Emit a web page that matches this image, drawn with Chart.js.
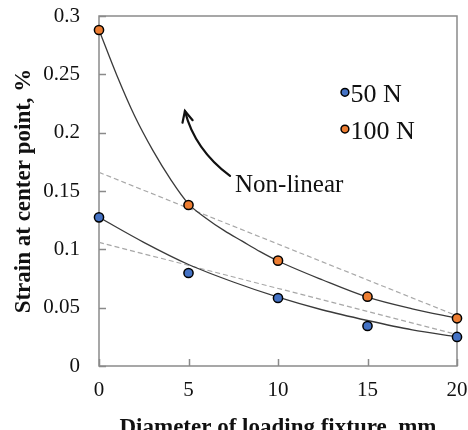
<!DOCTYPE html>
<html><head><meta charset="utf-8">
<script src="https://cdn.jsdelivr.net/npm/chart.js@4.4.1/dist/chart.umd.min.js"></script>
<style>html,body{margin:0;padding:0;overflow:hidden;background:#fff;width:468px;height:430px}canvas{display:block}</style>
</head><body><canvas id="c" width="468" height="442"></canvas>
<script>
// ---- data ----
const diameters = [0, 5, 10, 15, 20];
const strain50N = [0.1274, 0.0797, 0.0583, 0.0343, 0.0249];
const strain100N = [0.288, 0.138, 0.0903, 0.0594, 0.0409];
// non-linear fit curves
const fitX100 = [0, 1, 2, 3, 4, 5, 6, 7, 8, 9, 10, 12.5, 15, 17.5, 20];
const fitY100 = [0.288, 0.249, 0.214, 0.185, 0.160, 0.139, 0.1265, 0.116, 0.107, 0.098, 0.090, 0.0737, 0.059, 0.049, 0.041];
const fitX50 = [0, 2.5, 5, 7.5, 10, 12.5, 15, 17.5, 20];
const fitY50 = [0.1274, 0.106, 0.087, 0.072, 0.059, 0.048, 0.039, 0.031, 0.025];
// linear fits (dashed)
const linX = [0, 20];
const linY100 = [0.166, 0.043];
const linY50 = [0.106, 0.027];
// axis tick labels
const xTickLabels = ['0', '5', '10', '15', '20'];
const yTickLabels = ['0', '0.05', '0.1', '0.15', '0.2', '0.25', '0.3'];
const seriesNames = ['50 N', '100 N'];

const FONT = '"Liberation Serif","Times New Roman",serif';
const BLUE = '#4472C4', ORANGE = '#ED7D31';
const AXIS = '#8a8a8a';

const pts = (xs, ys) => xs.map((x, i) => ({x, y: ys[i]}));

// annotation placement (data units)
const note = {text: 'Non-linear', at: [7.6, 0.1489],
  from: [7.32, 0.1629], ctrl: [5.34, 0.1856], to: [4.80, 0.2186]};
const legendPos = {x: 13.74, y: [0.2346, 0.2031]};

const noPad = s => { s.paddingTop = 0; s.paddingBottom = 0; s.paddingLeft = 0; s.paddingRight = 0; };

const deco = {
  id: 'deco',
  beforeDatasetsDraw(chart) {
    const {ctx, chartArea: a, scales: {x, y}} = chart;
    ctx.save();
    ctx.strokeStyle = AXIS;
    ctx.lineWidth = 1.5;
    ctx.strokeRect(a.left, a.top, a.right - a.left, a.bottom - a.top);
    ctx.beginPath();
    y.ticks.forEach(t => { const p = Math.round(y.getPixelForValue(t.value)) + 0.5; ctx.moveTo(a.left, p); ctx.lineTo(a.left + 7, p); });
    x.ticks.forEach(t => { const p = Math.round(x.getPixelForValue(t.value)) + 0.5; ctx.moveTo(p, a.bottom); ctx.lineTo(p, a.bottom - 7); });
    ctx.stroke();
    ctx.restore();
  },
  afterDatasetsDraw(chart) {
    const {ctx, scales: {x, y}} = chart;
    const P = v => [x.getPixelForValue(v[0]), y.getPixelForValue(v[1])];
    ctx.save();
    // annotation arrow
    const p0 = P(note.from), p1 = P(note.ctrl), p2 = P(note.to);
    ctx.strokeStyle = '#111';
    ctx.lineWidth = 2.2;
    ctx.lineCap = 'round';
    ctx.beginPath();
    ctx.moveTo(p0[0], p0[1]);
    ctx.quadraticCurveTo(p1[0], p1[1], p2[0], p2[1]);
    ctx.stroke();
    const ang = Math.atan2(p2[1] - p1[1], p2[0] - p1[0]) + Math.PI;
    ctx.beginPath();
    ctx.moveTo(p2[0] + 12 * Math.cos(ang - 0.45), p2[1] + 12 * Math.sin(ang - 0.45));
    ctx.lineTo(p2[0], p2[1]);
    ctx.lineTo(p2[0] + 12 * Math.cos(ang + 0.45), p2[1] + 12 * Math.sin(ang + 0.45));
    ctx.stroke();
    // annotation text
    ctx.fillStyle = '#111';
    ctx.font = '25px ' + FONT;
    ctx.textBaseline = 'alphabetic';
    ctx.textAlign = 'left';
    const tp = P(note.at);
    ctx.fillText(note.text, tp[0], tp[1]);
    // legend
    const cols = [BLUE, ORANGE];
    ctx.font = '26px ' + FONT;
    legendPos.y.forEach((ly, i) => {
      const [px, py] = P([legendPos.x, ly]);
      ctx.beginPath();
      ctx.arc(px, py, 3.9, 0, Math.PI * 2);
      ctx.fillStyle = cols[i];
      ctx.fill();
      ctx.lineWidth = 1.5;
      ctx.strokeStyle = '#000';
      ctx.stroke();
      ctx.fillStyle = '#111';
      ctx.fillText(chart.data.datasets[i].label, px + 5.5, py + 9.5);
    });
    ctx.restore();
  }
};

new Chart(document.getElementById('c'), {
  type: 'scatter',
  data: {
    datasets: [
      {label: seriesNames[0], data: pts(diameters, strain50N), backgroundColor: BLUE, borderColor: '#000',
        borderWidth: 1.5, pointRadius: 4.6, pointHoverRadius: 4.6, order: 0, clip: false},
      {label: seriesNames[1], data: pts(diameters, strain100N), backgroundColor: ORANGE, borderColor: '#000',
        borderWidth: 1.5, pointRadius: 4.6, pointHoverRadius: 4.6, order: 1, clip: false},
      {label: 'fit50', data: pts(fitX50, fitY50), showLine: true, pointRadius: 0, borderColor: '#3a3a3a',
        borderWidth: 1.3, cubicInterpolationMode: 'monotone', order: 2},
      {label: 'fit100', data: pts(fitX100, fitY100), showLine: true, pointRadius: 0, borderColor: '#3a3a3a',
        borderWidth: 1.3, cubicInterpolationMode: 'monotone', order: 3},
      {label: 'lin50', data: pts(linX, linY50), showLine: true, pointRadius: 0, borderColor: '#a8a8a8',
        borderWidth: 1.2, borderDash: [5, 3], order: 4},
      {label: 'lin100', data: pts(linX, linY100), showLine: true, pointRadius: 0, borderColor: '#a8a8a8',
        borderWidth: 1.2, borderDash: [5, 3], order: 5}
    ]
  },
  options: {
    responsive: false,
    animation: false,
    devicePixelRatio: 1,
    layout: {autoPadding: false, padding: {top: 16, right: 11, left: 0, bottom: 0}},
    plugins: {legend: {display: false}, tooltip: {enabled: false}},
    scales: {
      x: {
        type: 'linear', min: 0, max: 20,
        afterFit: s => { s.height = 76; noPad(s); },
        grid: {display: false, drawTicks: false},
        border: {display: false},
        ticks: {stepSize: 5, padding: 12, color: '#111', font: {family: FONT, size: 21},
          callback: (v, i) => xTickLabels[i]},
        title: {display: true, text: 'Diameter of loading fixture, mm', color: '#111',
          font: {family: FONT, size: 23, weight: 'bold'}, padding: {top: 0, bottom: 0}}
      },
      y: {
        type: 'linear', min: 0, max: 0.3,
        afterFit: s => { s.width = 99; noPad(s); },
        grid: {display: false, drawTicks: false},
        border: {display: false},
        ticks: {stepSize: 0.05, padding: 19, color: '#111', font: {family: FONT, size: 21},
          callback: (v, i) => yTickLabels[i]},
        title: {display: true, text: 'Strain at center point, %', color: '#111',
          font: {family: FONT, size: 23, weight: 'bold'}, padding: {top: 10, bottom: 0}}
      }
    }
  },
  plugins: [deco]
});
</script>
</body></html>
